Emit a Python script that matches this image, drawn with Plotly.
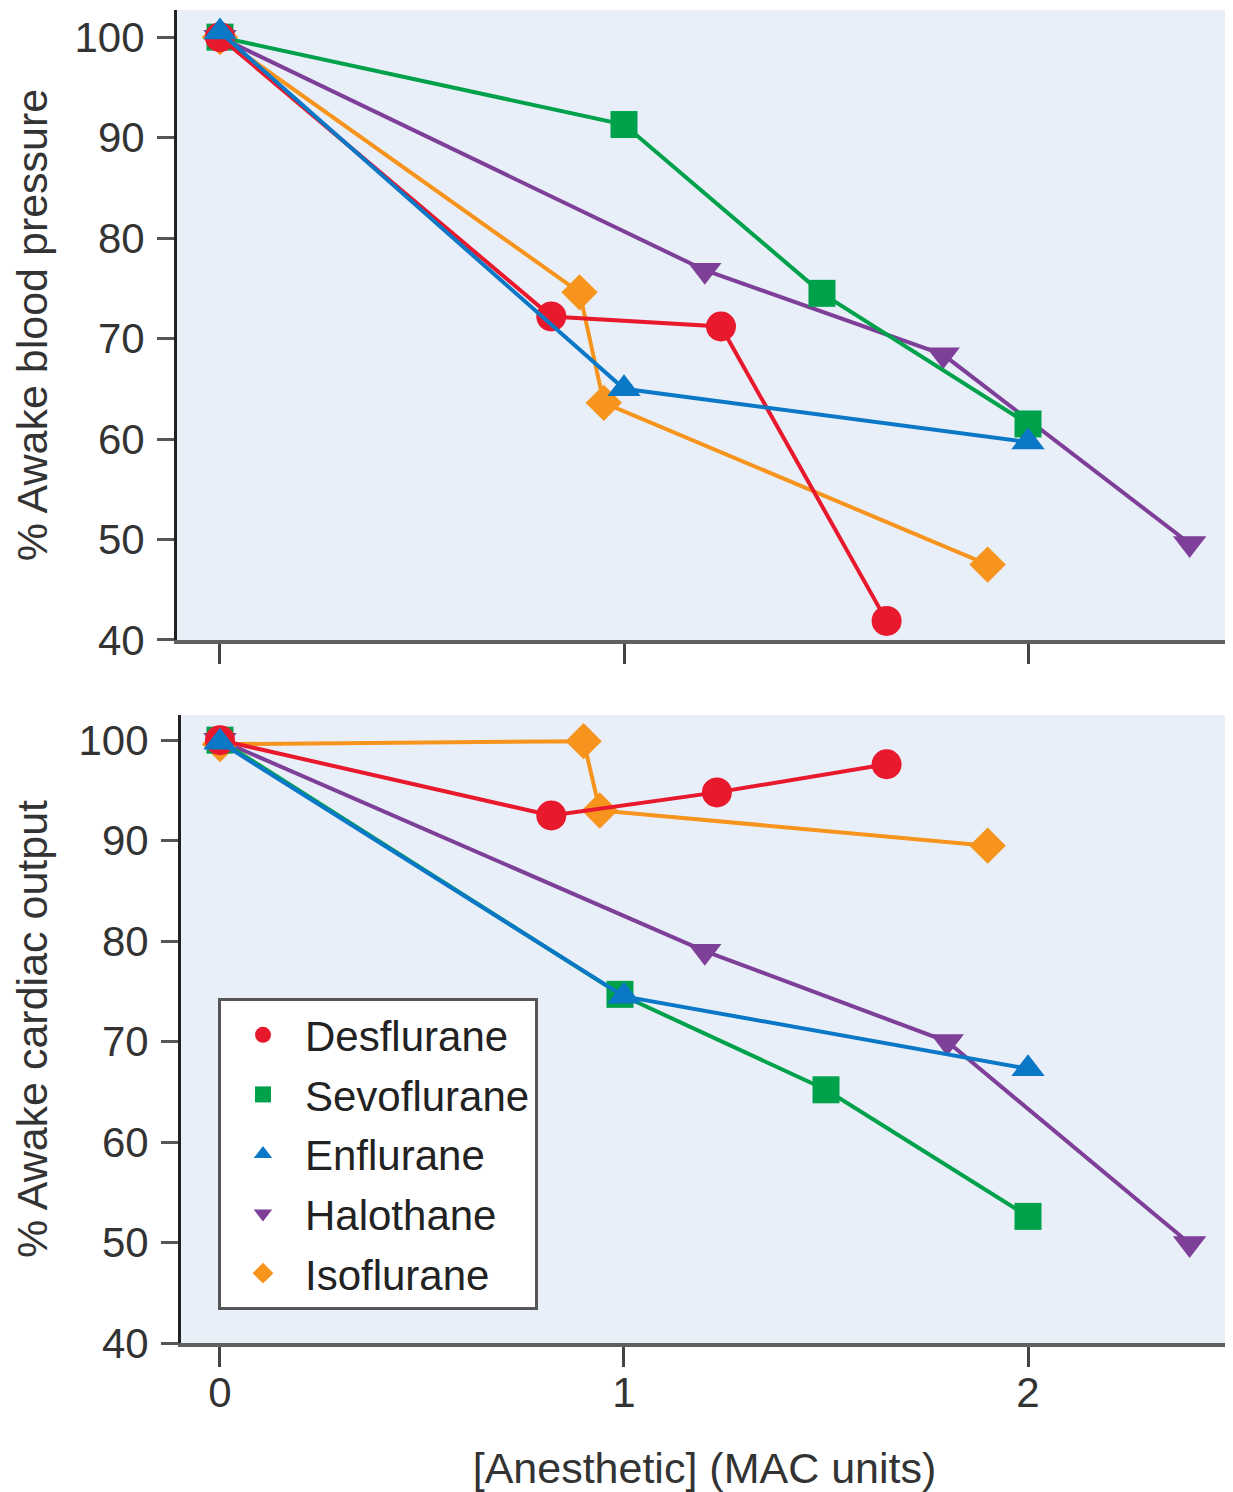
import plotly.graph_objects as go

# ---- data ----
drugs = ["Desflurane", "Sevoflurane", "Enflurane", "Halothane", "Isoflurane"]

# Top panel: % awake blood pressure
bp_des_x = [0, 0.82, 1.24, 1.65]
bp_des_y = [100, 72.2, 71.2, 41.9]
bp_sev_x = [0, 1.0, 1.49, 2.0]
bp_sev_y = [100, 91.3, 74.5, 61.5]
bp_enf_x = [0, 1.0, 2.0]
bp_enf_y = [100.5, 65.0, 59.7]
bp_hal_x = [0, 1.2, 1.79, 2.4]
bp_hal_y = [100, 76.8, 68.4, 49.6]
bp_iso_x = [0, 0.89, 0.95, 1.9]
bp_iso_y = [100, 74.6, 63.6, 47.5]

# Bottom panel: % awake cardiac output
co_des_x = [0, 0.82, 1.23, 1.65]
co_des_y = [100, 92.5, 94.8, 97.6]
co_sev_x = [0, 0.99, 1.5, 2.0]
co_sev_y = [100, 74.7, 65.2, 52.6]
co_enf_x = [0, 1.0, 2.0]
co_enf_y = [99.8, 74.5, 67.3]
co_hal_x = [0, 1.2, 1.8, 2.4]
co_hal_y = [100, 79.0, 70.0, 49.9]
co_iso_x = [0, 0.9, 0.94, 1.9]
co_iso_y = [99.6, 99.9, 93.0, 89.5]

x_ticks = [0, 1, 2]
y_ticks = [40, 50, 60, 70, 80, 90, 100]

colors = {"Desflurane": "#E8192C", "Sevoflurane": "#00A14B", "Enflurane": "#0A78C6",
          "Halothane": "#7D3F98", "Isoflurane": "#F7941D"}
symbols = {"Desflurane": "circle", "Sevoflurane": "square", "Enflurane": "triangle-up",
           "Halothane": "triangle-down", "Isoflurane": "diamond"}
sizes = {"Desflurane": 30, "Sevoflurane": 27, "Enflurane": 29, "Halothane": 29, "Isoflurane": 28}

top = {"Desflurane": (bp_des_x, bp_des_y), "Sevoflurane": (bp_sev_x, bp_sev_y),
       "Enflurane": (bp_enf_x, bp_enf_y), "Halothane": (bp_hal_x, bp_hal_y),
       "Isoflurane": (bp_iso_x, bp_iso_y)}
bot = {"Desflurane": (co_des_x, co_des_y), "Sevoflurane": (co_sev_x, co_sev_y),
       "Enflurane": (co_enf_x, co_enf_y), "Halothane": (co_hal_x, co_hal_y),
       "Isoflurane": (co_iso_x, co_iso_y)}

draw_order = ["Halothane", "Isoflurane", "Sevoflurane", "Desflurane", "Enflurane"]

fig = go.Figure()
for d in draw_order:
    x, y = top[d]
    fig.add_trace(go.Scatter(x=x, y=y, mode="lines+markers", xaxis="x", yaxis="y",
                             line=dict(color=colors[d], width=4),
                             marker=dict(symbol=symbols[d], size=sizes[d], color=colors[d]),
                             showlegend=False, cliponaxis=False))
for d in draw_order:
    x, y = bot[d]
    fig.add_trace(go.Scatter(x=x, y=y, mode="lines+markers", xaxis="x2", yaxis="y2",
                             line=dict(color=colors[d], width=4),
                             marker=dict(symbol=symbols[d], size=sizes[d], color=colors[d]),
                             showlegend=False, cliponaxis=False))
# legend-only entries (markers only, as in the reference)
for i, d in enumerate(drugs):
    fig.add_trace(go.Scatter(x=[None], y=[None], mode="markers", xaxis="x2", yaxis="y2",
                             name=d, legendgroup=d, legendrank=i,
                             marker=dict(symbol=symbols[d], size=sizes[d], color=colors[d])))

font_family = "Liberation Sans, Arial, sans-serif"
tick_font = dict(family=font_family, size=42, color="#333333")
title_font = dict(family=font_family, size=43, color="#333333")

common_y = dict(tickmode="array", tickvals=y_ticks, ticks="outside", ticklen=17, tickwidth=3,
                tickcolor="#555555", showline=True, linecolor="#222222", linewidth=3,
                showgrid=False, zeroline=False, tickfont=tick_font, ticklabelstandoff=4,
                title_font=title_font, title_standoff=20)
common_x = dict(tickmode="array", tickvals=x_ticks, ticks="outside", ticklen=20, tickwidth=3,
                tickcolor="#444444", showline=True, linecolor="#5f5f5f", linewidth=4,
                showgrid=False, zeroline=False, tickfont=tick_font)

fig.update_layout(
    width=1225, height=1484,
    margin=dict(l=169, r=5, t=2, b=149),
    paper_bgcolor="white", plot_bgcolor="#E9EFF8",
    font=dict(family=font_family, color="#333333"),
    xaxis=dict(common_x, domain=[0, 1], range=[-0.1064, 2.495], anchor="y", showticklabels=False),
    yaxis=dict(common_y, domain=[0.5274, 1], range=[40, 102.7], anchor="x",
               title_text="% Awake blood pressure"),
    xaxis2=dict(common_x, domain=[0.0038, 1], range=[-0.0965, 2.495], anchor="y2",
                ticklabelstandoff=-10,
                title_text="[Anesthetic] (MAC units)", title_standoff=43,
                title_font=title_font),
    yaxis2=dict(common_y, domain=[0, 0.4711], range=[40, 102.5], anchor="x2",
                title_text="% Awake cardiac output"),
    legend=dict(x=0.039, y=0.2588, xanchor="left", yanchor="top",
                bgcolor="white", bordercolor="#555555", borderwidth=3,
                font=dict(family=font_family, size=42, color="#222222"),
                tracegroupgap=2, itemsizing="trace", itemwidth=74),
)

fig.write_html("out.html")
